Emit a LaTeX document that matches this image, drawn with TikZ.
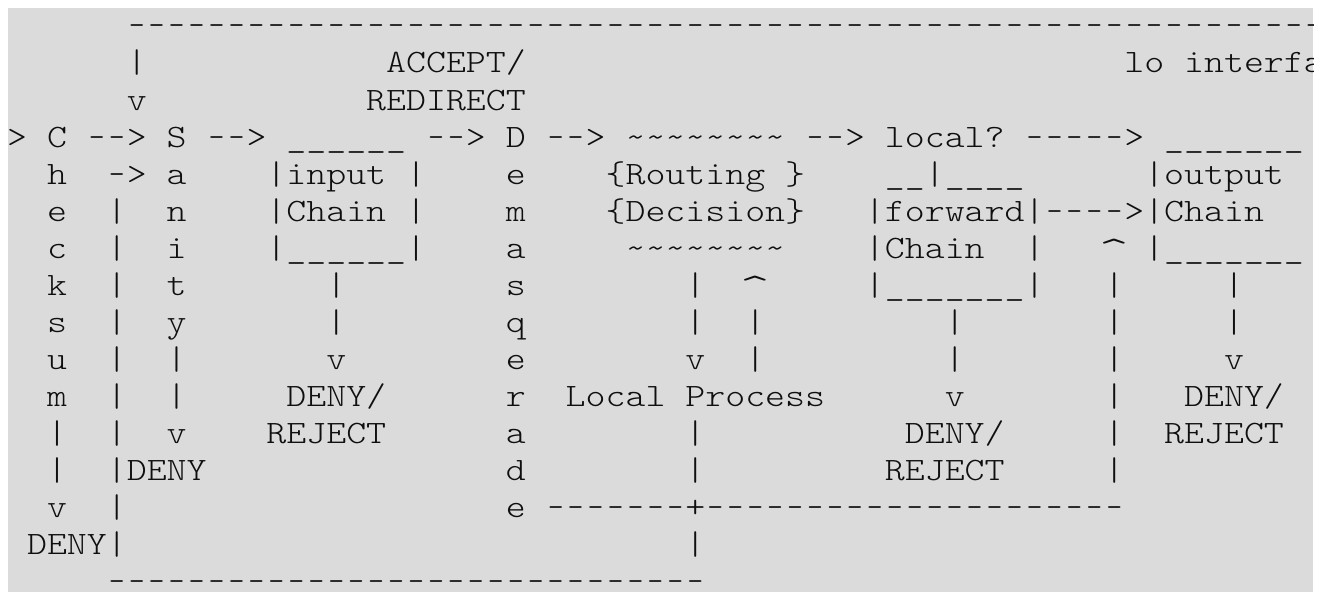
\documentclass[tikz,border=0pt]{standalone}
\usepackage{graphicx}
\usepackage{fontspec}
\newfontfamily\asciifont{lmmonolt10-regular.otf}
\definecolor{panel}{RGB}{219,219,219}
\definecolor{ink}{RGB}{15,15,15}
% one hyphen per character cell, kept in its own box so runs stay plain hyphens
\newcommand\hy{\makebox[0.525em]{\scalebox{0.8}[1]{-}}}
\newcommand\dashes[1]{\foreach \i in {1,...,#1}{\hy}}
\newcommand\tildes[1]{\foreach \i in {1,...,#1}{\textasciitilde}}
\newcommand\unders[1]{\foreach \i in {1,...,#1}{\_}}
% a larger caret that still fills one character cell
\newcommand\caret{\makebox[0.525em]{\raisebox{-0.24em}[0.55em][0pt]{\scalebox{1.5}[1.3]{\textasciicircum}}}}
\tikzset{chr/.style={anchor=base west, inner sep=0pt, outer sep=0pt, text=ink,
  font=\fontsize{28.5pt}{28.5pt}\asciifont}}
% character grid: column pitch 19.95px, row pitch 37px
\newcommand\glyphat[4]{\node[chr] (#1) at ({7.1+19.95*(#2)},{36+37*(#3)}) {\scalebox{1}[0.86]{#4}};}
\begin{document}
\begin{tikzpicture}[x=0.75pt,y=-0.75pt]
\useasboundingbox (0,0) rectangle (1327,592);
\fill[panel] (8,8) rectangle (1313,592);
\begin{scope}
\clip (8,8) rectangle (1313,592);
% row 0
\glyphat{loopTop}{6}{0}{\dashes{60}}
% row 1
\glyphat{loopDown}{6}{1}{|}
\glyphat{accept}{19}{1}{ACCEPT/}
\glyphat{loIf}{56}{1}{lo interface}
% row 2
\glyphat{loopArrow}{6}{2}{v}
\glyphat{redirect}{18}{2}{REDIRECT}
% row 3
\glyphat{inArrow}{0}{3}{>}
\glyphat{chkC}{2}{3}{C}
\glyphat{chkToSan}{4}{3}{\hy\hy>}
\glyphat{sanS}{8}{3}{S}
\glyphat{sanToIn}{10}{3}{\hy\hy>}
\glyphat{inTop}{14}{3}{\unders{6}}
\glyphat{inToDem}{21}{3}{\hy\hy>}
\glyphat{demD}{25}{3}{D}
\glyphat{demToRt}{27}{3}{\hy\hy>}
\glyphat{rtTop}{31}{3}{\tildes{8}}
\glyphat{rtToLocal}{40}{3}{\hy\hy>}
\glyphat{localQ}{44}{3}{local?}
\glyphat{localToOut}{51}{3}{\dashes{5}>}
\glyphat{outTop}{58}{3}{\unders{7}}
% row 4
\glyphat{chkh}{2}{4}{h}
\glyphat{sanFeed}{5}{4}{\hy>}
\glyphat{sana}{8}{4}{a}
\glyphat{inName}{13}{4}{|input |}
\glyphat{deme1}{25}{4}{e}
\glyphat{rtName}{30}{4}{\{Routing \}}
\glyphat{fwTop}{44}{4}{\unders{2}|\unders{4}}
\glyphat{outName}{57}{4}{|output}
% row 5
\glyphat{chke}{2}{5}{e}
\glyphat{denyL5}{5}{5}{|}
\glyphat{sann}{8}{5}{n}
\glyphat{inChain}{13}{5}{|Chain |}
\glyphat{demm}{25}{5}{m}
\glyphat{rtDecision}{30}{5}{\{Decision\}}
\glyphat{fwName}{43}{5}{|forward|\dashes{4}>|Chain}
% row 6
\glyphat{chkc}{2}{6}{c}
\glyphat{denyL6}{5}{6}{|}
\glyphat{sani}{8}{6}{i}
\glyphat{inBottom}{13}{6}{|\unders{6}|}
\glyphat{dema1}{25}{6}{a}
\glyphat{rtBottom}{31}{6}{\tildes{8}}
\glyphat{fwChain}{43}{6}{|Chain}
\glyphat{fwRight6}{51}{6}{|}
\glyphat{retUp}{55}{6}{\caret}
\glyphat{outBottom}{57}{6}{|\unders{7}}
% row 7
\glyphat{chkk}{2}{7}{k}
\glyphat{denyL7}{5}{7}{|}
\glyphat{sant}{8}{7}{t}
\glyphat{inDrop7}{16}{7}{|}
\glyphat{dems}{25}{7}{s}
\glyphat{rtDown7}{34}{7}{|}
\glyphat{rtUp}{37}{7}{\caret}
\glyphat{fwBottom}{43}{7}{|\unders{7}|}
\glyphat{retL7}{55}{7}{|}
\glyphat{outDrop7}{61}{7}{|}
% row 8
\glyphat{chks}{2}{8}{s}
\glyphat{denyL8}{5}{8}{|}
\glyphat{sany}{8}{8}{y}
\glyphat{inDrop8}{16}{8}{|}
\glyphat{demq}{25}{8}{q}
\glyphat{rtDown8}{34}{8}{|}
\glyphat{rtUp8}{37}{8}{|}
\glyphat{fwDrop8}{47}{8}{|}
\glyphat{retL8}{55}{8}{|}
\glyphat{outDrop8}{61}{8}{|}
% row 9
\glyphat{chku}{2}{9}{u}
\glyphat{denyL9}{5}{9}{|}
\glyphat{sanL9}{8}{9}{|}
\glyphat{inArrowDown}{16}{9}{v}
\glyphat{deme2}{25}{9}{e}
\glyphat{rtArrowDown}{34}{9}{v}
\glyphat{rtUp9}{37}{9}{|}
\glyphat{fwDrop9}{47}{9}{|}
\glyphat{retL9}{55}{9}{|}
\glyphat{outArrowDown}{61}{9}{v}
% row 10
\glyphat{chkm}{2}{10}{m}
\glyphat{denyL10}{5}{10}{|}
\glyphat{sanL10}{8}{10}{|}
\glyphat{inDeny}{14}{10}{DENY/}
\glyphat{demr}{25}{10}{r}
\glyphat{localProc}{28}{10}{Local Process}
\glyphat{fwArrowDown}{47}{10}{v}
\glyphat{retL10}{55}{10}{|}
\glyphat{outDeny}{59}{10}{DENY/}
% row 11
\glyphat{chkL11}{2}{11}{|}
\glyphat{denyL11}{5}{11}{|}
\glyphat{sanArrowDown}{8}{11}{v}
\glyphat{inReject}{13}{11}{REJECT}
\glyphat{dema2}{25}{11}{a}
\glyphat{procL11}{34}{11}{|}
\glyphat{fwDeny}{45}{11}{DENY/}
\glyphat{retL11}{55}{11}{|}
\glyphat{outReject}{58}{11}{REJECT}
% row 12
\glyphat{chkL12}{2}{12}{|}
\glyphat{sanDeny}{5}{12}{|DENY}
\glyphat{demd}{25}{12}{d}
\glyphat{procL12}{34}{12}{|}
\glyphat{fwReject}{44}{12}{REJECT}
\glyphat{retL12}{55}{12}{|}
% row 13
\glyphat{chkArrowDown}{2}{13}{v}
\glyphat{denyL13}{5}{13}{|}
\glyphat{deme3}{25}{13}{e}
\glyphat{demOut}{27}{13}{\dashes{7}+\dashes{21}}
% row 14
\glyphat{chkDeny}{1}{14}{DENY|}
\glyphat{procL14}{34}{14}{|}
% row 15
\glyphat{loopBottom}{5}{15}{\dashes{30}}
\end{scope}
\end{tikzpicture}
\end{document}
